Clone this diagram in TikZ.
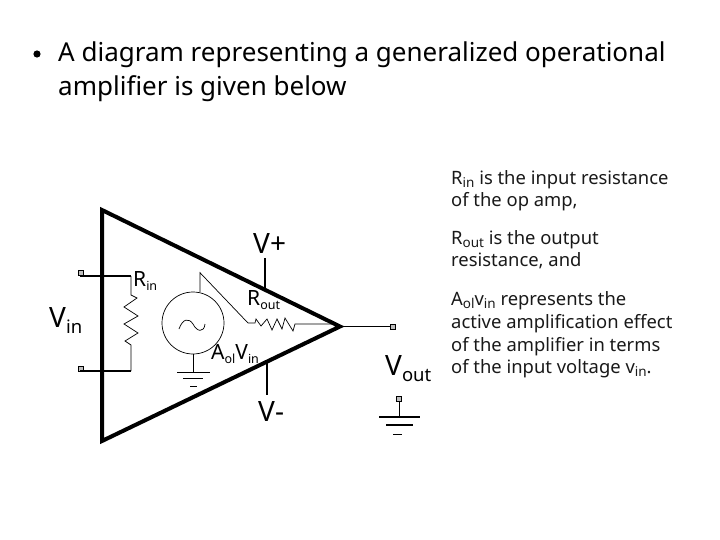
\documentclass[tikz,border=0pt]{standalone}
\usepackage{fontspec}
\setmainfont{Noto Sans}
\newcommand{\subt}[1]{\raisebox{-4.5pt}{\fontsize{12.5}{12.5}\selectfont #1}}
\newcommand{\subn}[1]{\raisebox{-3pt}{\fontsize{13.5}{13.5}\selectfont #1}}
\newcommand{\subb}[1]{\raisebox{-6.5pt}{\fontsize{18.5}{18.5}\selectfont #1}}
\tikzset{
  x=1pt,y=-1pt,
  lbl/.style={inner sep=0pt,anchor=base west,font=\fontsize{18.4}{18.4}\selectfont,text=black!90},
  big/.style={inner sep=0pt,anchor=base west,font=\fontsize{28}{28}\selectfont},
  mid/.style={inner sep=0pt,anchor=base west,font=\fontsize{21}{21}\selectfont},
  supply/.style={inner sep=0pt,anchor=base west,font=\fontsize{28}{28}\selectfont},
  body/.style={inner sep=0pt,anchor=base west,font=\fontsize{26}{26}\selectfont},
  term/.style={draw=black,fill=black!25,line width=0.7pt,minimum size=5pt,inner sep=0pt,rectangle},
  heavy/.style={line width=4pt,line join=miter},
  wire/.style={line width=1.6pt},
  thin wire/.style={line width=0.7pt},
}
\begin{document}
\begin{tikzpicture}
\useasboundingbox (0,0) rectangle (720,540);
% bullet + title
\fill (37,54) circle (3.6);
\node[body] (t1) at (58,62) {A diagram representing a generalized operational};
\node[body] (t2) at (58,96) {amplifier is given below};
% op amp triangle
\coordinate (apexA) at (102,210);
\coordinate (apexB) at (102,441);
\coordinate (apexC) at (340,326.5);
\draw[heavy] (apexA) -- (apexC) -- (apexB) -- cycle;
% terminals
\node[term] (tin1) at (81,273) {};
\node[term] (tin2) at (81,369) {};
\node[term] (tout) at (393,326.5) {};
\node[term] (tgnd) at (399,399) {};
% input wires
\coordinate (ra) at (131,276);
\coordinate (rb) at (131,371);
\draw[wire] (tin1.south) |- (ra);
\draw[wire] (tin2.south) |- (rb);
\draw[thin wire] (ra) -- (131,295) -- (137,298) -- (124,307) -- (138,316) -- (124,324) -- (138,333) -- (125,341) -- (131,345) -- (rb);
% source
\node[draw,circle,thin wire,minimum size=62pt,inner sep=0pt] (src) at (193,323) {};
\draw[thin wire] (179,329) .. controls (183,318) and (189,318) .. (193,324) .. controls (197,332) and (204,333) .. (205,324);
\coordinate (rs) at (248,323);
\draw[thin wire] (200,292) -- (200,272.7) -- (rs) -- (255,323) -- (256,319) -- (261,326) -- (267,319) -- (272,330) -- (277,319) -- (282,329) -- (285,318) -- (293,331) -- (295,324) -- (337,324);
% source ground
\coordinate (g1) at (193,372);
\draw[thin wire] (src.south) -- (g1);
\draw[thin wire] (177,372) -- (210,372);
\draw[thin wire] (183,378) -- (203,378);
\draw[thin wire] (190,386) -- (197,386);
% supply lines
\draw[wire] (265,258) -- (265,288);
\draw[wire] (267,363) -- (267,395);
% output
\draw[wire] (apexC) -- (tout.west);
\draw[thin wire] (tgnd.south) -- (399,417);
\draw[wire] (379,417) -- (420,417);
\draw[wire] (386,425) -- (413,425);
\draw[thin wire] (393,434) -- (402,434);
% circuit labels
\node[big] (vin) at (49,327) {V\subb{in}};
\node[mid] (rin) at (133,286) {R\subt{in}};
\node[supply] (vp) at (253,253) {V+};
\node[mid] (rout) at (247,305) {R\subt{out}};
\node[mid] (aol) at (211,359) {A\subt{ol}V\subt{in}};
\node[big] (vm) at (258,421) {V-};
\node[big] (vout) at (385,375) {V\subb{out}};
% notes
\node[lbl] (n1) at (451,185) {R\subn{in} is the input resistance};
\node[lbl] (n2) at (451,207) {of the op amp,};
\node[lbl] (n3) at (451,244) {R\subn{out} is the output};
\node[lbl] (n4) at (451,266) {resistance, and};
\node[lbl] (n5) at (451,305) {A\subn{ol}v\subn{in} represents the};
\node[lbl] (n6) at (451,328) {active amplification effect};
\node[lbl] (n7) at (451,351) {of the amplifier in terms};
\node[lbl] (n8) at (451,373) {of the input voltage v\subn{in}.};
\end{tikzpicture}
\end{document}
